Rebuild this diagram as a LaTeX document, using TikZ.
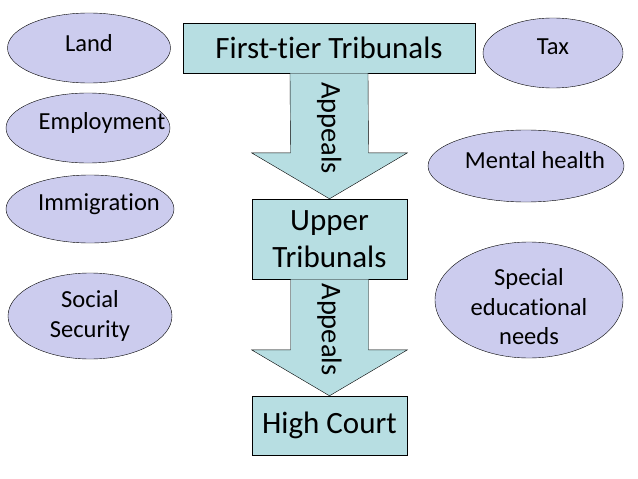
\documentclass[tikz,border=0pt]{standalone}
\usepackage{fontspec}
\setmainfont[Ligatures=NoCommon]{Carlito}
\usetikzlibrary{shapes.geometric,calc}

\definecolor{boxfill}{RGB}{183,222,226}
\definecolor{ovalfill}{RGB}{204,204,238}

\tikzset{
  tribunal/.style={draw,fill=boxfill,rectangle,inner sep=0pt,font=\fontsize{31}{37}\selectfont,align=center},
  topic/.style={draw,fill=ovalfill,ellipse,inner sep=0pt},
  topictext/.style={font=\fontsize{24.5}{29.5}\selectfont,align=center},
  appeal/.style={draw,fill=boxfill}
}

% block arrow from the bottom of one box to the top of the next
\newcommand{\appealarrow}[2]{%
  \draw[appeal] ($(#1.south)+(-39,0)$) -- ($(#1.south)+(39,0)$)
    -- ($(#2.north)+(39,-46)$) -- ($(#2.north)+(78,-46)$) -- (#2.north)
    -- ($(#2.north)+(-78,-46)$) -- ($(#2.north)+(-39,-46)$) -- cycle;
  \node[rotate=-90,font=\fontsize{28.5}{34}\selectfont] at ($(#1.south)!0.5!(#2.north)+(0,-8)$) {Appeals};
}

\begin{document}
\begin{tikzpicture}[x=1pt,y=-1pt]
\useasboundingbox (0,0) rectangle (638,479);

% courts
\node[tribunal,minimum width=292,minimum height=50] (ft) at (329,48) {First-tier Tribunals};
\node[tribunal,minimum width=155,minimum height=80] (ut) at (329.5,239) {Upper\\Tribunals};
\node[tribunal,minimum width=155,minimum height=59] (hc) at (329.5,425.5) {High Court};

\appealarrow{ft}{ut}
\appealarrow{ut}{hc}

% chambers, left
\node[topic,minimum width=163,minimum height=70,label={[topictext,yshift=5]center:Land}] (land) at (89,48) {};
\node[topic,minimum width=164,minimum height=70,label={[topictext,xshift=14,yshift=5]center:Employment}] (emp) at (88,128) {};
\node[topic,minimum width=168,minimum height=68,label={[topictext,xshift=9,yshift=5]center:Immigration}] (imm) at (90,209) {};
\node[topic,minimum width=164,minimum height=86,label={[topictext]center:Social\\Security}] (soc) at (90,316) {};

% chambers, right
\node[topic,minimum width=140,minimum height=70,label={[topictext,yshift=6]center:Tax}] (tax) at (553,53) {};
\node[topic,minimum width=196,minimum height=72,label={[topictext,xshift=9,yshift=6]center:Mental health}] (mh) at (526,166) {};
\node[topic,minimum width=188,minimum height=116,label={[topictext,yshift=-7]center:Special\\educational\\needs}] (sen) at (529,300) {};
\end{tikzpicture}
\end{document}
